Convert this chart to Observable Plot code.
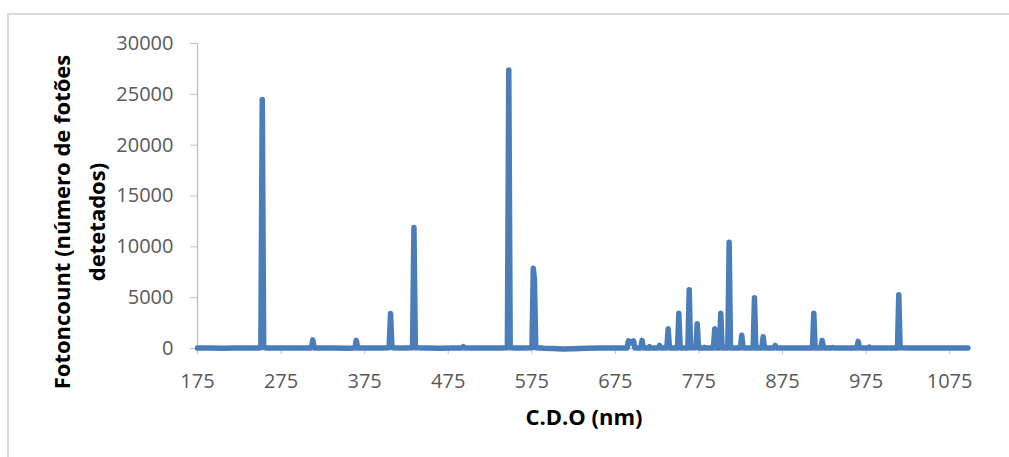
<!DOCTYPE html>
<html>
<head>
<meta charset="utf-8">
<script src="https://cdn.jsdelivr.net/npm/d3@7"></script>
<script src="https://cdn.jsdelivr.net/npm/@observablehq/plot@0.6"></script>
<style>
  html, body { margin: 0; padding: 0; background: #fff; overflow: hidden; }
  #wrap { position: relative; width: 1009px; height: 457px; }
  #frame { position: absolute; left: 7px; top: 13px; width: 1200px; height: 700px;
           border: 2px solid #d9d9d9; box-sizing: border-box; pointer-events: none; }
  #chart { position: absolute; left: 0; top: 0; }
</style>
</head>
<body>
<div id="wrap"><div id="chart"></div><div id="frame"></div></div>
<script>
// Emission spectrum: wavelength (nm) and detected photon counts
const wavelengthNm = [
  175, 190, 205, 220, 235, 248,
  250.8, 252.5, 254.2,
  258, 270, 285, 300,
  311.3, 313, 314.7,
  325, 340, 355,
  363.3, 365, 366.7,
  380, 395,
  404.3, 406, 407.7,
  420,
  432.3, 434, 435.7,
  450, 465, 480,
  491.3, 493, 494.7,
  510, 525, 540,
  545.8, 547.5, 549.2,
  555, 565,
  575.2, 576.8, 578.2, 579.8,
  590, 600, 612, 625, 640, 655, 670, 684,
  689.1, 690.7, 693.5, 696.7, 698.3,
  705.4, 707, 708.6,
  714.3, 715.9, 717.5,
  726.3, 727.9, 729.5,
  736.6, 738.2, 739.8,
  749.4, 751, 752.6,
  761.8, 763.4, 765,
  771.4, 773, 774.6,
  780.1, 781.7, 783.3,
  792.4, 794, 795.6,
  799.6, 801.2, 802.8,
  809.6, 811.2, 812.8,
  824.7, 826.3, 827.9,
  839.9, 841.5, 843.1,
  850.3, 851.9, 853.5,
  864.7, 866.3, 867.9,
  880, 895, 905,
  910.9, 912.5, 914.1,
  920.9, 922.5, 924.1,
  933.4, 935, 936.6,
  950,
  964, 965.6, 967.2,
  977.2, 978.8, 980.4,
  995, 1005,
  1012.6, 1014.2, 1015.8,
  1030, 1045, 1060, 1075, 1090, 1097
];
const photonCounts = [
  40, 60, 30, 50, 40, 60,
  80, 24500, 90,
  50, 40, 60, 40,
  60, 850, 60,
  40, 50, 30,
  50, 800, 50,
  40, 60,
  80, 3450, 80,
  50,
  70, 11900, 70,
  40, 30, 50,
  40, 180, 40,
  50, 50, 60,
  80, 27400, 80,
  60, 40,
  80, 7900, 6800, 80,
  30, 0, -40, -20, 20, 40, 50, 60,
  60, 750, 550, 750, 60,
  60, 800, 60,
  40, 180, 40,
  50, 300, 50,
  60, 1950, 60,
  60, 3460, 60,
  60, 5780, 80,
  80, 2440, 60,
  40, 120, 40,
  60, 1950, 60,
  60, 3460, 60,
  60, 10450, 60,
  60, 1300, 60,
  60, 5000, 60,
  60, 1160, 60,
  50, 300, 50,
  40, 50, 40,
  60, 3460, 60,
  50, 800, 50,
  40, 100, 40,
  40,
  50, 700, 50,
  40, 150, 40,
  50, 40,
  60, 5290, 70,
  40, 50, 40, 50, 40, 40
];
const xTicks = [175, 275, 375, 475, 575, 675, 775, 875, 975, 1075];
const yTicks = [0, 5000, 10000, 15000, 20000, 25000, 30000];

const yTitle = "Fotoncount (número de fotões\ndetetados)";
const xTitle = "C.D.O (nm)";

const spectrum = wavelengthNm.map((w, i) => ({w, c: photonCounts[i]}));

const axisGrey = "#bfbfbf";
const labelGrey = "#595959";

const chart = Plot.plot({
  width: 1009,
  height: 457,
  marginLeft: 197,
  marginRight: 39,
  marginTop: 43,
  marginBottom: 109,
  style: {fontFamily: "'Open Sans', sans-serif", background: "transparent", overflow: "visible"},
  x: {domain: [175, 1100]},
  y: {domain: [0, 30000]},
  marks: [
    Plot.ruleX([175], {y1: 0, y2: 30000, stroke: axisGrey, strokeWidth: 1.3}),
    Plot.ruleY([0], {x1: 175, x2: 1100, stroke: axisGrey, strokeWidth: 1.3}),
    Plot.axisY(yTicks, {
      anchor: "left", tickSize: 7, tickPadding: 17, fontSize: 20,
      stroke: axisGrey, fill: labelGrey, tickFormat: d => String(d), label: null
    }),
    Plot.axisX(xTicks, {
      anchor: "bottom", tickSize: 6, tickPadding: 19, fontSize: 20,
      stroke: axisGrey, fill: labelGrey, tickFormat: d => String(d), label: null
    }),
    Plot.line(spectrum, {
      x: "w", y: "c", stroke: "#4a7ebb", strokeWidth: 5.5,
      strokeLinejoin: "round", strokeLinecap: "round", curve: "linear"
    }),
    Plot.text([yTitle], {
      text: d => d, frameAnchor: "left", rotate: -90, dx: -121, dy: 26,
      lineAnchor: "middle", textAnchor: "middle", lineHeight: 1.6,
      fontSize: 22, fontWeight: "bold", fill: "#000"
    }),
    Plot.text([xTitle], {
      text: d => d, frameAnchor: "bottom", dy: 69, lineAnchor: "middle",
      fontSize: 22, fontWeight: "bold", fill: "#000"
    })
  ]
});
document.getElementById("chart").appendChild(chart);
</script>
</body>
</html>
